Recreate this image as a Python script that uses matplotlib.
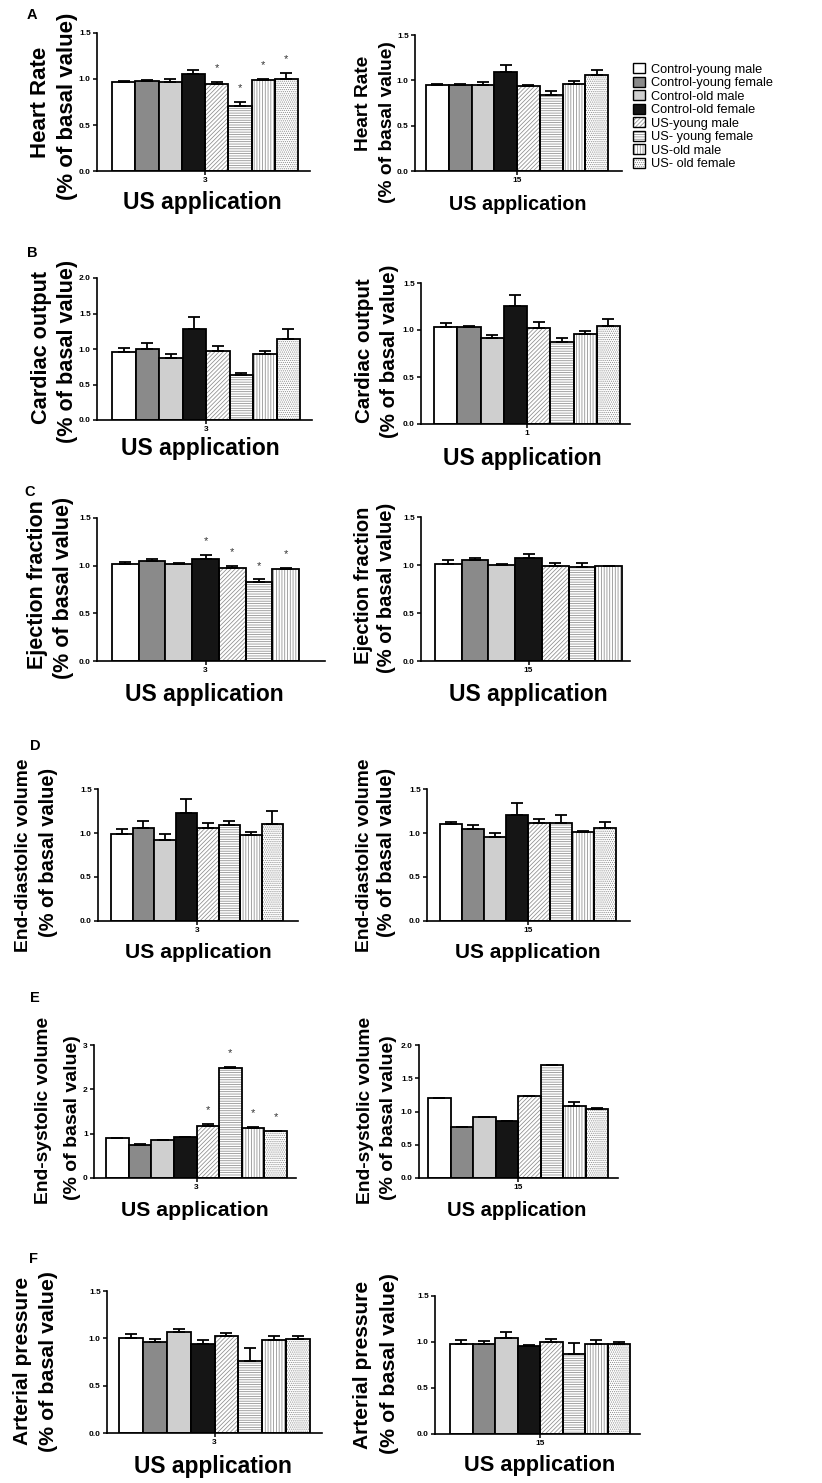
import matplotlib
matplotlib.use("Agg")
import matplotlib.pyplot as plt
import numpy as np
from matplotlib.patches import Patch
from matplotlib.legend_handler import HandlerTuple

plt.rcParams["font.family"] = ["Liberation Sans", "DejaVu Sans"]
plt.rcParams["hatch.linewidth"] = 0.55

W, H = 822, 1483

groups = ["Control-young male", "Control-young female", "Control-old male",
          "Control-old female", "US-young male", "US- young female",
          "US-old male", "US- old female"]

# A - heart rate
hr_3 = [0.97, 0.98, 0.97, 1.05, 0.95, 0.71, 0.99, 1.00]
hr_3_err = [0.01, 0.005, 0.03, 0.046, 0.02, 0.035, 0.015, 0.07]
hr_3_sig = [0, 0, 0, 0, 1, 1, 1, 1]
hr_15 = [0.945, 0.945, 0.945, 1.09, 0.94, 0.84, 0.96, 1.06]
hr_15_err = [0.015, 0.01, 0.033, 0.077, 0.01, 0.04, 0.033, 0.055]

# B - cardiac output
co_3 = [0.96, 1.00, 0.88, 1.28, 0.97, 0.635, 0.925, 1.145]
co_3_err = [0.05, 0.08, 0.056, 0.17, 0.075, 0.02, 0.043, 0.136]
co_1 = [1.03, 1.03, 0.91, 1.255, 1.02, 0.87, 0.955, 1.045]
co_1_err = [0.04, 0.015, 0.04, 0.117, 0.067, 0.046, 0.032, 0.074]

# C - ejection fraction (no US-old female group)
ef_3 = [1.015, 1.05, 1.015, 1.065, 0.98, 0.83, 0.965]
ef_3_err = [0.02, 0.02, 0.013, 0.042, 0.014, 0.025, 0.015]
ef_3_sig = [0, 0, 0, 1, 1, 1, 1]
ef_15 = [1.01, 1.055, 1.0, 1.075, 0.99, 0.98, 0.985]
ef_15_err = [0.04, 0.015, 0.01, 0.04, 0.035, 0.045, 0.005]

# D - end-diastolic volume
edv_3 = [0.99, 1.055, 0.925, 1.225, 1.055, 1.09, 0.975, 1.105]
edv_3_err = [0.057, 0.076, 0.064, 0.16, 0.057, 0.05, 0.038, 0.14]
edv_15 = [1.10, 1.045, 0.955, 1.21, 1.11, 1.115, 1.01, 1.055]
edv_15_err = [0.023, 0.042, 0.045, 0.13, 0.053, 0.087, 0.01, 0.068]

# E - end-systolic volume
esv_3 = [0.90, 0.74, 0.86, 0.92, 1.18, 2.49, 1.12, 1.05]
esv_3_err = [0.0, 0.02, 0.0, 0.01, 0.04, 0.01, 0.04, 0.02]
esv_3_sig = [0, 0, 0, 0, 1, 1, 1, 1]
esv_15 = [1.20, 0.76, 0.915, 0.86, 1.235, 1.70, 1.09, 1.04]
esv_15_err = [0.01, 0.01, 0.0, 0.0, 0.005, 0.005, 0.05, 0.02]

# F - arterial pressure
ap_3 = [1.0, 0.965, 1.065, 0.935, 1.025, 0.765, 0.98, 0.99]
ap_3_err = [0.046, 0.028, 0.032, 0.045, 0.028, 0.137, 0.046, 0.03]
ap_15 = [0.98, 0.98, 1.04, 0.955, 1.0, 0.875, 0.98, 0.98]
ap_15_err = [0.047, 0.028, 0.068, 0.017, 0.03, 0.115, 0.04, 0.018]

faces = ["white", "#8a8a8a", "#cfcfcf", "#151515", "white", "white", "white", "white"]
hatches = [None, None, None, None, "////////", "-------", "||||||", "........"]
HATCH_GRAY = "#8c8c8c"

fig = plt.figure(figsize=(W / 100, H / 100), dpi=100)


def draw_bars(ax, vals, errs):
    for i, v in enumerate(vals):
        if hatches[i]:
            ax.bar(i, v, width=1, color=faces[i], edgecolor=HATCH_GRAY,
                   hatch=hatches[i], linewidth=0, zorder=1)
            ax.bar(i, v, width=1, fill=False, edgecolor="black", linewidth=1.3, zorder=2)
        else:
            ax.bar(i, v, width=1, color=faces[i], edgecolor="black", linewidth=1.3, zorder=2)
    pos = np.arange(len(vals))
    ax.errorbar(pos, vals, yerr=[np.zeros(len(vals)), errs], fmt="none",
                ecolor="black", elinewidth=1.3, capsize=4.5, capthick=1.3, zorder=3)


def panel(box, vals, errs, tick, ymax, step, sig=None, intfmt=False):
    # box: x0, x1, y_top, y_base, first bar left, last bar right (pixels)
    x0, x1, top, base, b0, b1 = box
    ax = fig.add_axes([x0 / W, 1 - base / H, (x1 - x0) / W, (base - top) / H])
    n = len(vals)
    w = (b1 - b0) / n
    draw_bars(ax, vals, errs)
    ax.set_xlim(-0.5 - (b0 - x0) / w, n - 0.5 + (x1 - b1) / w)
    ax.set_ylim(0, ymax)
    ticks = np.arange(0, ymax + 1e-9, step)
    ax.set_yticks(ticks)
    if intfmt:
        ax.set_yticklabels([f"{t:.0f}" for t in ticks])
    else:
        ax.set_yticklabels([f"{t:.1f}" for t in ticks])
    ax.set_xticks([(n - 1) / 2])
    ax.set_xticklabels([tick])
    for s in ["top", "right"]:
        ax.spines[s].set_visible(False)
    for s in ["left", "bottom"]:
        ax.spines[s].set_linewidth(1.2)
    ax.tick_params(axis="both", length=3, width=1.1, labelsize=6, pad=1.5)
    for lab in ax.get_yticklabels() + ax.get_xticklabels():
        lab.set_fontweight("bold")
    if sig is not None:
        for i, s in enumerate(sig):
            if s:
                ax.annotate("*", (i, vals[i] + errs[i]), xytext=(0, 10),
                            textcoords="offset points", ha="center", va="center",
                            fontsize=8, color="#333333")
    return ax


def ylabel(xs, ys, text1, fs):
    fig.text(xs[0] / W, 1 - ys[0] / H, text1, rotation=90, ha="center", va="center",
             fontsize=fs[0], fontweight="bold")
    fig.text(xs[1] / W, 1 - ys[1] / H, "(% of basal value)", rotation=90, ha="center",
             va="center", fontsize=fs[1], fontweight="bold")


def xlabel(xc, yc, fs):
    fig.text(xc / W, 1 - yc / H, "US application", ha="center", va="center",
             fontsize=fs, fontweight="bold")


# A
panel((97, 310, 33, 171, 112, 298), hr_3, hr_3_err, "3", 1.5, 0.5, hr_3_sig)
panel((415, 622, 35, 171, 426, 608), hr_15, hr_15_err, "15", 1.5, 0.5)
ylabel((40, 67), (102, 106), "Heart Rate", (16, 16))
ylabel((363, 387), (103, 122), "Heart Rate", (13.8, 13.8))
xlabel(202, 203, 16.5)
xlabel(518, 205, 14.2)

# B
panel((97, 312, 278, 420, 112, 300), co_3, co_3_err, "3", 2.0, 0.5)
panel((421, 630, 283, 424, 434, 620), co_1, co_1_err, "1", 1.5, 0.5)
ylabel((41, 67), (347, 351), "Cardiac output", (15.6, 15.6))
ylabel((364, 389), (351, 351), "Cardiac output", (14.8, 14.8))
xlabel(200, 448, 16.5)
xlabel(522, 458, 16.5)

# C
panel((97, 325, 518, 661, 112, 299), ef_3, ef_3_err, "3", 1.5, 0.5, ef_3_sig)
panel((421, 630, 517, 661, 435, 622), ef_15, ef_15_err, "15", 1.5, 0.5)
ylabel((38, 63), (585, 588), "Ejection fraction", (15.5, 15.5))
ylabel((363, 386), (585, 588), "Ejection fraction", (14.5, 14.5))
xlabel(204, 694, 16.5)
xlabel(528, 694, 16.5)

# D
panel((98, 298, 789, 921, 111, 283), edv_3, edv_3_err, "3", 1.5, 0.5)
panel((427, 630, 789, 921, 440, 616), edv_15, edv_15_err, "15", 1.5, 0.5)
ylabel((23, 49), (855, 852), "End-diastolic volume", (13.9, 14.4))
ylabel((364, 386), (855, 852), "End-diastolic volume", (13.9, 14.4))
xlabel(198, 953, 15.2)
xlabel(528, 952, 15.0)

# E
panel((94, 296, 1045, 1178, 106, 287), esv_3, esv_3_err, "3", 3, 1, esv_3_sig, intfmt=True)
panel((419, 618, 1045, 1178, 428, 608), esv_15, esv_15_err, "15", 2.0, 0.5)
ylabel((44, 72), (1110, 1118), "End-systolic volume", (13.9, 14.0))
ylabel((365, 388), (1110, 1118), "End-systolic volume", (13.9, 14.0))
xlabel(195, 1210, 15.3)
xlabel(517, 1210, 14.5)

# F
panel((107, 322, 1291, 1433, 119, 310), ap_3, ap_3_err, "3", 1.5, 0.5)
panel((435, 640, 1296, 1434, 450, 630), ap_15, ap_15_err, "15", 1.5, 0.5)
ylabel((22, 48), (1361, 1362), "Arterial pressure", (15.1, 15.4))
ylabel((362, 389), (1365, 1363), "Arterial pressure", (15.1, 15.4))
xlabel(213, 1466, 16.4)
xlabel(540, 1466, 15.7)

# panel letters
for letter, (lx, ly) in zip("ABCDEF", [(32, 15), (32, 253), (30, 492), (35, 746),
                                       (35, 998), (34, 1259)]):
    fig.text(lx / W, 1 - ly / H, letter, ha="center", va="center",
             fontsize=10.5, fontweight="bold")

# legend
handles = []
for i in range(len(groups)):
    if hatches[i]:
        handles.append((Patch(facecolor=faces[i], edgecolor=HATCH_GRAY, hatch=hatches[i],
                              linewidth=0),
                        Patch(fill=False, edgecolor="black", linewidth=1.0)))
    else:
        handles.append(Patch(facecolor=faces[i], edgecolor="black", linewidth=1.0))
fig.legend(handles, groups, loc="upper left", bbox_to_anchor=(633 / W, 1 - 63 / H),
           frameon=False, fontsize=9.2, handlelength=0.95, handleheight=0.85,
           handletextpad=0.45, labelspacing=0.08, borderpad=0, borderaxespad=0,
           handler_map={tuple: HandlerTuple(ndivide=1, pad=0)})

fig.savefig("out.png", dpi=100)
